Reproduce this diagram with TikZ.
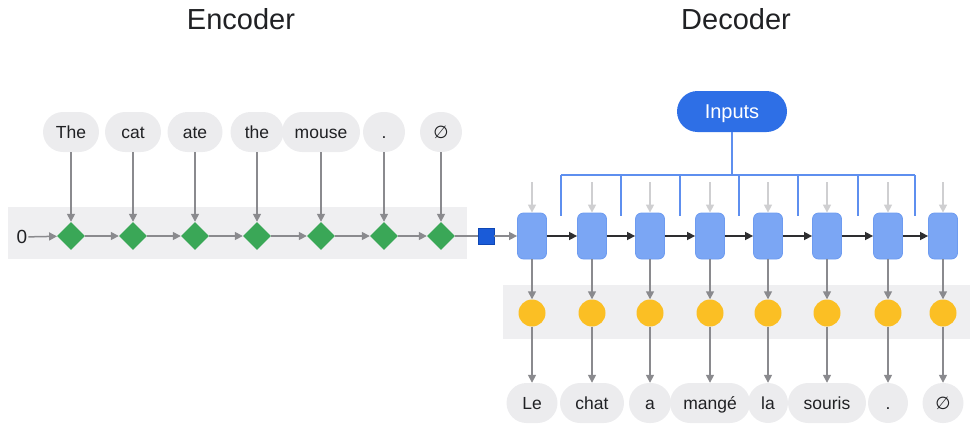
\documentclass[tikz,border=0pt]{standalone}
\usepackage{fontspec}
\setmainfont{Liberation Sans}
\newfontfamily\symfont{DejaVu Sans}
\usetikzlibrary{shapes.geometric,arrows.meta}
\definecolor{band}{HTML}{EFEFF1}
\definecolor{bubble}{HTML}{ECECEE}
\definecolor{txt}{HTML}{202124}
\definecolor{arr}{HTML}{8A8A8E}
\definecolor{lightarr}{HTML}{CFCFD1}
\definecolor{green}{HTML}{3AA757}
\definecolor{yellowc}{HTML}{FBBF24}
\definecolor{boxblue}{HTML}{7BA6F4}
\definecolor{boxedge}{HTML}{6D9BF0}
\definecolor{inblue}{HTML}{2E6FE6}
\definecolor{sqblue}{HTML}{1A5BD8}
\definecolor{sqedge}{HTML}{0F47B5}
\definecolor{brk}{HTML}{5E8FEF}
\definecolor{dark}{HTML}{2E2E30}
\tikzset{
  titletext/.style={font=\fontsize{29}{34}\selectfont, text=txt},
  tok/.style={fill=bubble, rounded corners=20pt, minimum height=40pt, inner sep=0pt, text=txt, font=\fontsize{17.5}{20}\selectfont, text height=12.5pt, text depth=0pt},
  enccell/.style={diamond, fill=green, minimum width=28pt, minimum height=28pt, inner sep=0pt},
  decbox/.style={rectangle, rounded corners=6pt, fill=boxblue, draw=boxedge, line width=0.8pt, minimum width=29pt, minimum height=46pt, inner sep=0pt},
  outdot/.style={circle, fill=yellowc, minimum size=27pt, inner sep=0pt},
  garrow/.style={draw=arr, line width=1.5pt, -{Triangle[length=8pt,width=8pt]}},
  larrow/.style={draw=lightarr, line width=1.5pt, -{Triangle[length=8pt,width=8pt]}},
  darrow/.style={draw=dark, line width=1.5pt, -{Triangle[length=8pt,width=8pt]}},
  brkline/.style={draw=brk, line width=1.5pt},
}
\begin{document}
\begin{tikzpicture}[x=1pt,y=-1pt]
\useasboundingbox (0,0) rectangle (980,434);
% background bands
\fill[band] (8,207) rectangle (467,259);
\fill[band] (503,285) rectangle (970,339);
% titles
\node[titletext] (enctitle) at (241,19) {Encoder};
\node[titletext] (dectitle) at (736,19) {Decoder};
% encoder input tokens
\node[tok, minimum width=56pt] (e1) at (71,132) {The};
\node[tok, minimum width=56pt] (e2) at (133,132) {cat};
\node[tok, minimum width=55pt] (e3) at (195,132) {ate};
\node[tok, minimum width=53pt] (e4) at (257,132) {the};
\node[tok, minimum width=78pt] (e5) at (321,132) {mouse};
\node[tok, minimum width=42pt] (e6) at (384,132) {.};
\node[tok, minimum width=42pt] (e7) at (441,132) {\symfont ∅};
% encoder cells
\node[font=\fontsize{19}{22}\selectfont, text=txt, inner sep=1pt] (zero) at (22,237) {0};
\foreach \x [count=\i] in {71,133,195,257,321,384,441} {
  \node[enccell] (d\i) at (\x,236) {};
  \draw[garrow] (e\i) -- (d\i);
}
\draw[garrow] (zero) -- (d1);
\foreach \i/\j in {1/2,2/3,3/4,4/5,5/6,6/7} {
  \draw[garrow] (d\i) -- (d\j);
}
% context square
\node[rectangle, fill=sqblue, draw=sqedge, line width=0.6pt, minimum size=16pt, inner sep=0pt] (ctx) at (486,236) {};
\draw[draw=arr, line width=1.5pt] (d7) -- (ctx);
% decoder
\foreach \x [count=\i] in {532,592,650,710,768,827,888,943} {
  \node[decbox] (b\i) at (\x,236) {};
  \node[outdot] (c\i) at (\x,313) {};
  \coordinate (t\i) at (\x,182);
  \draw[larrow] (t\i) -- (b\i);
  \draw[garrow] (b\i) -- (c\i);
}
\draw[garrow] (ctx) -- (b1);
\foreach \i/\j in {1/2,2/3,3/4,4/5,5/6,6/7,7/8} {
  \draw[darrow] (b\i) -- (b\j);
}
% output tokens
\node[tok, minimum width=51pt] (o1) at (532,403) {Le};
\node[tok, minimum width=64pt] (o2) at (592,403) {chat};
\node[tok, minimum width=42pt] (o3) at (650,403) {a};
\node[tok, minimum width=80pt] (o4) at (710,403) {mangé};
\node[tok, minimum width=40pt] (o5) at (768,403) {la};
\node[tok, minimum width=78pt] (o6) at (827,403) {souris};
\node[tok, minimum width=40pt] (o7) at (888,403) {.};
\node[tok, minimum width=41pt] (o8) at (943,403) {\symfont ∅};
\foreach \i in {1,...,8} {
  \draw[garrow] (c\i) -- (o\i);
}
% inputs node and bracket
\node[rectangle, rounded corners=20.5pt, fill=inblue, minimum width=110pt, minimum height=41pt, inner sep=0pt, text=white, font=\fontsize{20}{24}\selectfont, text height=14pt, text depth=0pt] (inputs) at (732,111.5) {Inputs};
\coordinate (bj) at (732,175);
\draw[brkline] (inputs.south) -- (bj);
\coordinate (bl) at (561,175);
\coordinate (br) at (915,175);
\draw[brkline] (bl) -- (br);
\foreach \x [count=\i] in {561,621,680,739,798,858,915} {
  \coordinate (h\i) at (\x,175);
  \coordinate (f\i) at (\x,216);
  \draw[brkline] (h\i) -- (f\i);
}
\end{tikzpicture}
\end{document}
